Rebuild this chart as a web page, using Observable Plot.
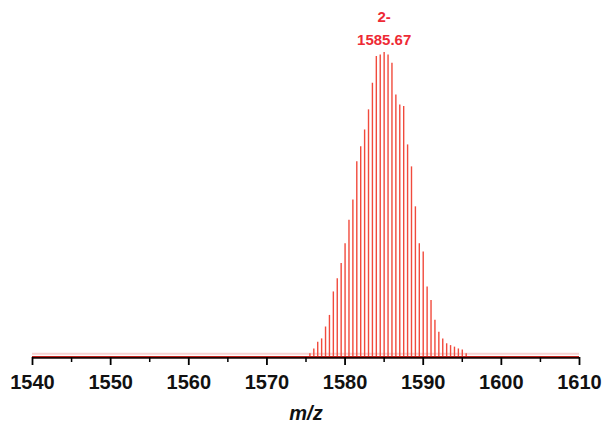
<!DOCTYPE html>
<html>
<head>
<meta charset="utf-8">
<script src="https://cdn.jsdelivr.net/npm/d3@7"></script>
<script src="https://cdn.jsdelivr.net/npm/@observablehq/plot@0.6"></script>
<style>
  html, body { margin: 0; padding: 0; background: #fff; }
  #chart svg { display: block; }
  g[aria-label="x-axis label"] text { font-style: italic; }
</style>
</head>
<body>
<div id="chart"></div>
<script>
// isotope peak positions (m/z)
const mz = [
  1575.5, 1576.0, 1576.5, 1577.0, 1577.5, 1578.0, 1578.5, 1579.0, 1579.5, 1580.0,
  1580.5, 1581.0, 1581.5, 1582.0, 1582.5, 1583.0, 1583.5, 1584.0, 1584.5, 1585.0,
  1585.5, 1586.0, 1586.5, 1587.0, 1587.5, 1588.0, 1588.5, 1589.0, 1589.5, 1590.0,
  1590.5, 1591.0, 1591.5, 1592.0, 1592.5, 1593.0, 1593.5, 1594.0, 1594.5, 1595.0,
  1595.5
];
// relative intensity (%)
const intensity = [
  1.2, 2.8, 5.0, 6.1, 10.0, 13.8, 21.5, 25.8, 30.8, 37.3,
  45.0, 51.6, 64.2, 69.1, 74.6, 81.2, 89.9, 98.7, 99.2, 100,
  99.2, 96.5, 86.1, 82.8, 82.3, 69.7, 62.5, 49.4, 37.3, 34.6,
  23.1, 18.7, 12.2, 8.3, 6.1, 4.5, 3.9, 3.4, 2.8, 2.5,
  1.2
];
const majorTicks = [1540, 1550, 1560, 1570, 1580, 1590, 1600, 1610];
const minorTicks = [1545, 1555, 1565, 1575, 1585, 1595, 1605];
const peakLabel = { mz: 1585.0, intensity: 100, charge: "2-", text: "1585.67" };

const peaks = mz.map((m, i) => ({ mz: m, intensity: intensity[i] }));

const chart = Plot.plot({
  width: 605,
  height: 427,
  marginLeft: 32,
  marginRight: 26,
  marginTop: 52,
  marginBottom: 70,
  style: { fontFamily: "'Liberation Sans', Arial, sans-serif", background: "#fff" },
  x: { domain: [1540, 1610] },
  y: { domain: [0, 100], axis: null },
  marks: [
    Plot.ruleY([1.2], { x1: 1540, x2: 1610, stroke: "#f8d2d2", strokeWidth: 2 }),
    Plot.ruleX(peaks, { x: "mz", y1: 0, y2: "intensity", stroke: "#f14a3c", strokeWidth: 1.4 }),
    Plot.ruleY([0], { x1: 1540, x2: 1610, stroke: "#1a0505", strokeWidth: 2.5 }),
    Plot.ruleY([0], { x1: 1540, x2: 1610, stroke: "#c0201a", strokeWidth: 1, dy: -1 }),
    Plot.axisX({
      ticks: majorTicks, tickSize: 8, tickPadding: 9, tickFormat: d => String(d),
      stroke: "#000", strokeWidth: 1.8, fontSize: 20, fontWeight: "bold", fill: "#111",
      label: "m/z", labelAnchor: "center", labelOffset: 62, labelArrow: "none"
    }),
    Plot.axisX({ ticks: minorTicks, tickSize: 5, tickFormat: () => "", stroke: "#000", strokeWidth: 1.5, label: null }),
    Plot.text([peakLabel], { x: "mz", y: "intensity", text: "charge", dy: -35, fill: "#ee2a35", fontSize: 15, fontWeight: "bold" }),
    Plot.text([peakLabel], { x: "mz", y: "intensity", text: "text", dy: -12, fill: "#ee2a35", fontSize: 15, fontWeight: "bold" })
  ]
});
document.getElementById("chart").append(chart);
// style axis label
const lab = chart.querySelector('g[aria-label="x-axis label"] text');
if (lab) { lab.setAttribute("font-size", "20"); lab.setAttribute("font-weight", "bold"); lab.setAttribute("fill", "#111"); }
</script>
</body>
</html>
